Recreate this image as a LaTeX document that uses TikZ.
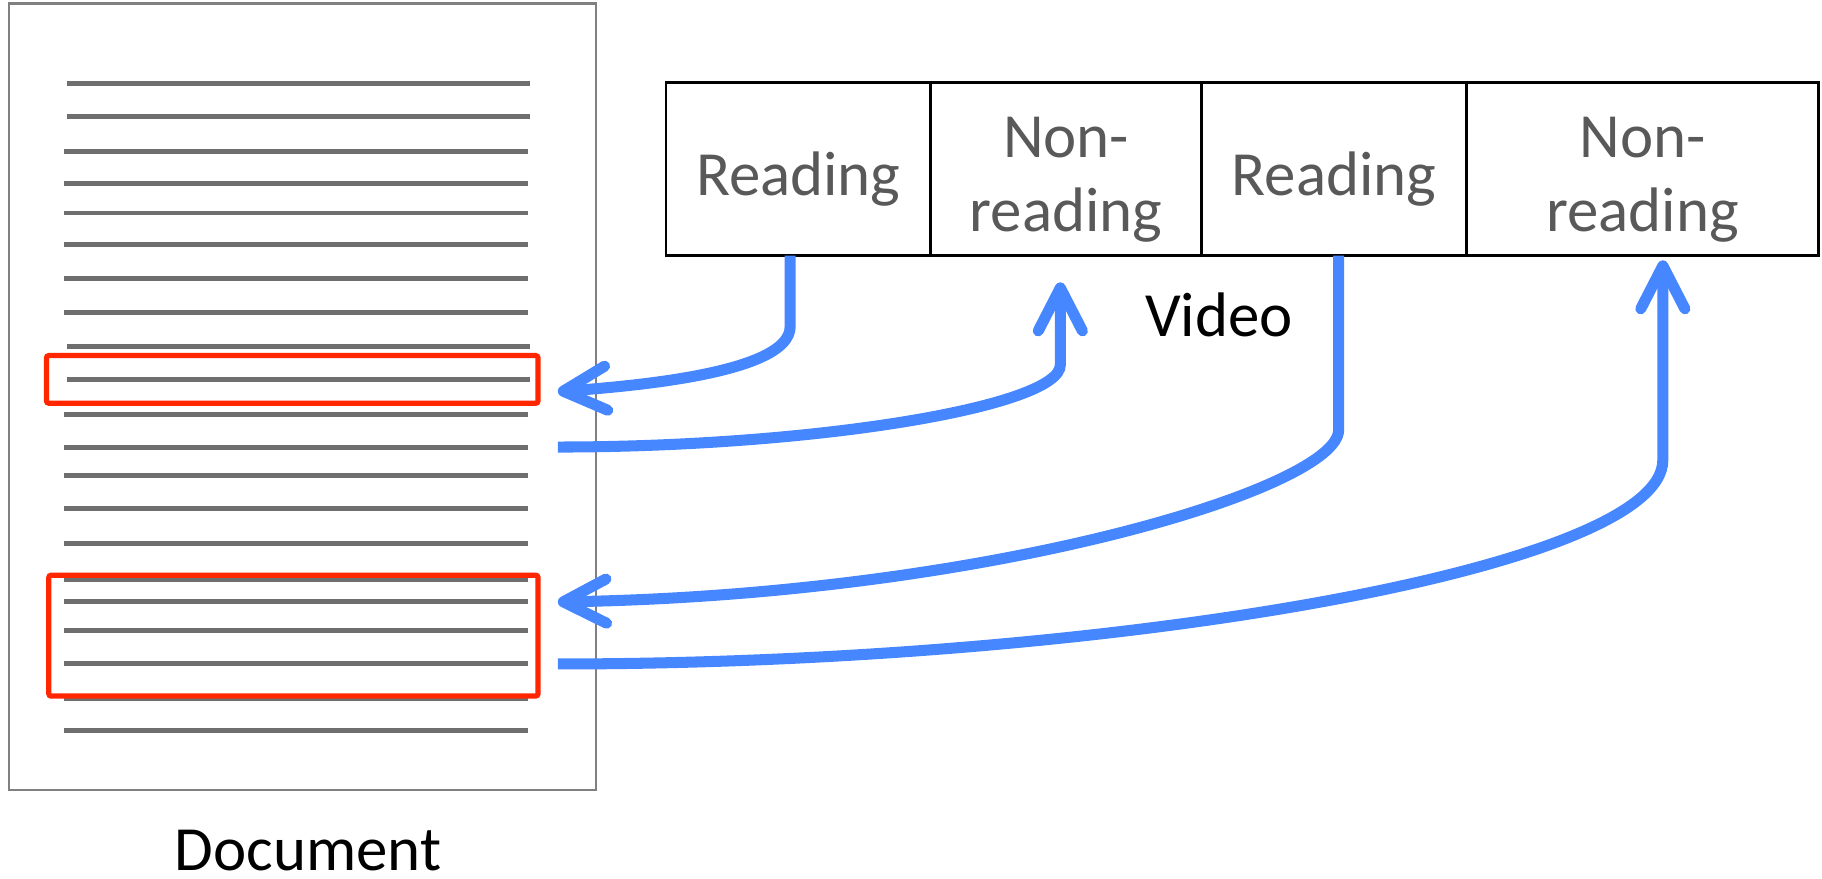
\documentclass[tikz,border=0pt]{standalone}
\usepackage{fontspec}
\setmainfont{Carlito}
\usetikzlibrary{arrows.meta,positioning}
\usepackage{xcolor}
\definecolor{pagegray}{RGB}{128,128,128}
\definecolor{linegray}{RGB}{110,110,110}
\definecolor{textgray}{RGB}{89,89,89}
\definecolor{markred}{RGB}{255,38,0}
\definecolor{linkblue}{RGB}{70,134,255}

\begin{document}
\begin{tikzpicture}[
    cell/.style={draw=black, line width=0.022cm, minimum width=#1, minimum height=1.49cm, inner sep=0pt, outer sep=0pt},
    cell text/.style={text=textgray, anchor=base, inner sep=0pt, font=\fontsize{15.4}{18.4}\selectfont},
    caption/.style={text=black, anchor=base, inner sep=0pt, font=\fontsize{15.4}{18.4}\selectfont},
    text line/.style={draw=linegray, line width=0.043cm},
    highlight/.style={draw=markred, line width=0.045cm, rounded corners=0.02cm, inner sep=0pt, outer sep=0pt},
    link/.style={draw=linkblue, line width=0.095cm, -{Straight Barb[length=0.37cm, width=0.38cm, line width=0.095cm, round]}}]
    \useasboundingbox (0,0) rectangle (15.68,-7.56);

	% The document page.
	\node [draw=pagegray, line width=0.018cm, minimum width=5.05cm, minimum height=6.77cm, inner sep=0pt, outer sep=0pt] (doc) at (2.605,-3.415) {};
	\foreach \i/\y/\dx in {1/0.715/0.025, 2/1.00/0.025, 3/1.30/0, 4/1.575/0, 5/1.833/0, 6/2.108/0, 7/2.40/0,
	                       8/2.685/0, 9/2.986/0.025, 10/3.262/0.025, 11/3.563/0, 12/3.847/0, 13/4.096/0, 14/4.38/0,
	                       15/4.673/0, 16/4.99/0, 17/5.18/0, 18/5.43/0, 19/5.714/0, 20/6.007/0, 21/6.29/0}
	    \draw [text line] (0.555+\dx,-\y) -- (4.54+\dx,-\y) coordinate (l\i);
	\node [caption] (doclabel) at ([xshift=0.045cm, yshift=-0.69cm]doc.south) {Document};

	% Marked passages.
	\node [highlight, minimum width=4.23cm, minimum height=0.41cm] (hl1) at (2.515,-3.265) {};
	\node [highlight, minimum width=4.21cm, minimum height=1.04cm] (hl2) at (2.525,-5.47) {};

	% The video segments.
	\node [cell=2.28cm] (r1) at (6.87,-1.455) {};
	\node [cell=2.33cm, right=0cm of r1] (n1) {};
	\node [cell=2.28cm, right=0cm of n1] (r2) {};
	\node [cell=3.03cm, right=0cm of r2] (n2) {};
	\node [cell text] (r1text) at ([yshift=-0.225cm]r1.center) {Reading};
	\node [cell text] (n1top) at ([yshift=0.10cm]n1.center) {Non-};
	\node [cell text] (n1bot) at ([yshift=-0.54cm]n1.center) {reading};
	\node [cell text] (r2text) at ([yshift=-0.225cm]r2.center) {Reading};
	\node [cell text] (n2top) at ([yshift=0.10cm]n2.center) {Non-};
	\node [cell text] (n2bot) at ([yshift=-0.54cm]n2.center) {reading};
	\node [caption] (videolabel) at (10.49,-2.90) {Video};

	% Links between video and document.
	\coordinate (tip1) at ([xshift=0.17cm, yshift=-0.105cm]hl1.east);
	\coordinate (tip2) at ([xshift=-0.05cm, yshift=-0.23cm]n1.south);
	\coordinate (tip3) at ([xshift=0.17cm, yshift=0.29cm]hl2.east);
	\coordinate (tip4) at ([xshift=0.175cm, yshift=-0.04cm]n2.south);

	\draw [link] ([xshift=-0.07cm]r1.south) -- ++(0,-0.61)
	    .. controls +(0,-0.19) and +(1.70,0.12) .. (tip1);
	\draw [link] ([xshift=0.26cm]l12) .. controls +(2.2,0) and +(0,-0.36) .. ([yshift=-0.71cm]tip2) -- (tip2);
	\draw [link] ([xshift=0.04cm]r2.south) -- ++(0,-1.5)
	    .. controls +(0,-0.5) and +(3.70,0.06) .. (tip3);
	\draw [link] ([xshift=0.26cm]l19) .. controls +(4.7,0) and +(0,-0.94) .. ([yshift=-1.72cm]tip4) -- (tip4);
\end{tikzpicture}
\end{document}
